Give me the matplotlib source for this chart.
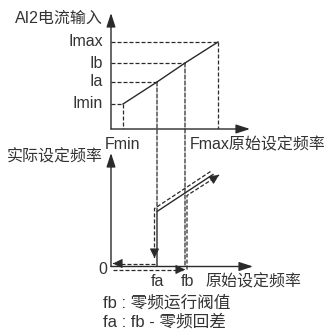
import matplotlib
matplotlib.use('Agg')
import matplotlib.pyplot as plt
from matplotlib import transforms
from matplotlib.patches import ConnectionPatch

plt.rcParams['font.family'] = ['Liberation Sans', 'Noto Sans CJK SC']
plt.rcParams['font.size'] = 11.5

# upper chart: input current vs original set frequency
freq_names = ['Fmin', 'fa', 'fb', 'Fmax']
freq_vals = [6, 23, 37, 53.5]
cur_names = ['Imin', 'Ia', 'Ib', 'Imax']
cur_vals = [2.5, 4.7, 6.6, 8.7]

# lower chart: actual set frequency
out_freq = [23, 23, 51]
out_vals = [0, 5.5, 9.2]
# hysteresis paths
down_x = [51, 23, 23]
down_y = [9.2, 5.5, 0.55]
left_x = [23, 2.25]
left_y = [0, 0]
right_x = [0, 36]
right_y = [0, 0]
up_x = [37, 37, 53]
up_y = [0, 7.4, 9.45]

notes = ['fb : 零频运行阀值', 'fa : fb - 零频回差']

ink = '#2a2a2a'
txt = '#333333'
dash = (0, (3.2, 1.6))

W, H = 327, 330
fig = plt.figure(figsize=(W / 100, H / 100), dpi=100)
ax1 = fig.add_axes([111 / W, (H - 129) / H, 139 / W, 116 / H])
ax2 = fig.add_axes([111 / W, (H - 266.5) / H, 142 / W, 113.5 / H])
ax1.set_xlim(0, 69.5)
ax1.set_ylim(0, 11.6)
ax2.set_xlim(0, 71)
ax2.set_ylim(0, 11.35)


def axis_arrows(ax):
    x1 = ax.get_xlim()[1]
    y1 = ax.get_ylim()[1]
    for tip in [(x1, 0), (0, y1)]:
        ax.annotate('', xy=tip, xytext=(0, 0), annotation_clip=False,
                    arrowprops=dict(arrowstyle='-|>,head_length=0.4,head_width=0.13',
                                    mutation_scale=21, lw=1, color=ink,
                                    shrinkA=0, shrinkB=0))


def dashed_arrow(ax, xs, ys, tr):
    ax.plot(xs, ys, color=ink, lw=0.9, ls=dash, transform=tr, clip_on=False)
    dx = xs[-1] - xs[-2]
    dy = ys[-1] - ys[-2]
    ax.annotate('', xy=(xs[-1], ys[-1]),
                xytext=(xs[-1] - 0.02 * dx, ys[-1] - 0.02 * dy),
                xycoords=tr, textcoords=tr, annotation_clip=False,
                arrowprops=dict(arrowstyle='-|>,head_length=0.4,head_width=0.2',
                                mutation_scale=14, lw=0.8, color=ink,
                                shrinkA=0, shrinkB=0))


for ax in (ax1, ax2):
    ax.axis('off')
    axis_arrows(ax)

# upper chart
ax1.plot(freq_vals, cur_vals, color=ink, lw=1)
for k, (f, i) in enumerate(zip(freq_vals, cur_vals)):
    ax1.plot([0, f], [i, i], color=ink, lw=0.9, ls=dash)
    if freq_names[k] in ('Fmin', 'Fmax'):
        ax1.plot([f, f], [i, 0], color=ink, lw=0.9, ls=dash)
    ax1.annotate(cur_names[k], (0, i), xytext=(-6, 0), textcoords='offset points',
                 ha='right', va='center', color=txt)

# guide lines from fa / fb down into the lower chart
for f, i, yb in [(freq_vals[1], cur_vals[1], out_vals[1]), (freq_vals[2], cur_vals[2], 0)]:
    con = ConnectionPatch(xyA=(f, i), coordsA=ax1.transData,
                          xyB=(f, yb), coordsB=ax2.transData,
                          color=ink, lw=0.9, linestyle=dash)
    fig.add_artist(con)

ax1.annotate('Fmin', (freq_vals[0], 0), xytext=(0, -11.5), textcoords='offset points',
             ha='center', va='center', color=txt)
ax1.annotate('Fmax原始设定频率', (freq_vals[3], 0), xytext=(-20, -11.5),
             textcoords='offset points', ha='left', va='center', color=txt)
ax1.annotate('AI2电流输入', (0, 11.1), xytext=(-6, 0), textcoords='offset points',
             ha='right', va='center', color=txt)

# lower chart
ax2.plot(out_freq, out_vals, color=ink, lw=1)
up_left = transforms.offset_copy(ax2.transData, fig=fig, x=-2.5, y=3, units='dots')
down_right = transforms.offset_copy(ax2.transData, fig=fig, x=2, y=-3, units='dots')
dashed_arrow(ax2, down_x, down_y, up_left)
dashed_arrow(ax2, left_x, left_y, up_left)
dashed_arrow(ax2, right_x, right_y, down_right)
dashed_arrow(ax2, up_x, up_y, down_right)

ax2.annotate('0', (0, 0), xytext=(-3, -1.8), textcoords='offset points',
             ha='right', va='center', color=txt)
for name, f, dx in zip(freq_names[1:3], freq_vals[1:3], [0, 1.5]):
    ax2.annotate(name, (f, 0), xytext=(dx, -11), textcoords='offset points',
                 ha='center', va='center', color=txt)
ax2.annotate('原始设定频率', (47, 0), xytext=(0, -11), textcoords='offset points',
             ha='left', va='center', color=txt)
ax2.annotate('实际设定频率', (0, 10.95), xytext=(-6, 0), textcoords='offset points',
             ha='right', va='center', color=txt)

fig.text(103 / W, 1 - 303 / H, notes[0], va='center', color=txt, fontsize=12)
fig.text(103 / W, 1 - 322 / H, notes[1], va='center', color=txt, fontsize=12)

fig.savefig('out.png', dpi=100)
